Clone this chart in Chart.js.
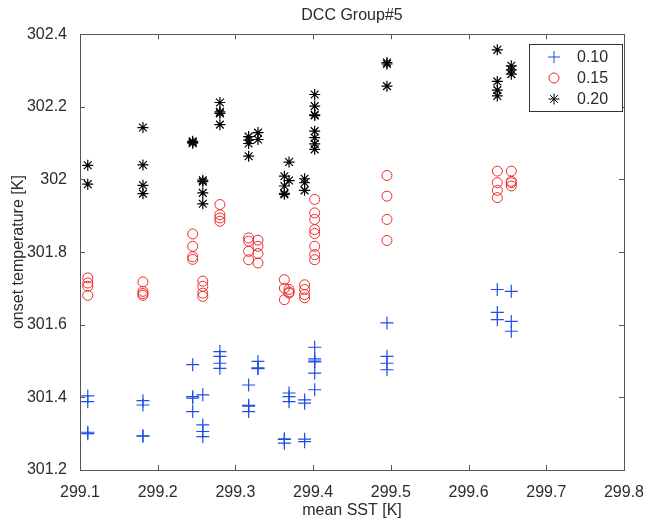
<!DOCTYPE html>
<html>
<head>
<meta charset="utf-8">
<script src="https://cdn.jsdelivr.net/npm/chart.js@4"></script>
<style>
  body { margin: 0; background: #fff; }
  #wrap { width: 649px; height: 520px; }
</style>
</head>
<body>
<div id="wrap"><canvas id="dcc"></canvas></div>
<script>
// mean SST of each cloud group (x positions)
const sstGroups = [299.110, 299.181, 299.245, 299.258, 299.280, 299.317, 299.329,
                   299.363, 299.369, 299.389, 299.402, 299.495, 299.637, 299.655];

// onset temperature per group, one array per threshold
const temp010 = [
  [301.404, 301.388, 301.304, 301.300],
  [301.391, 301.379, 301.294, 301.293],
  [301.490, 301.402, 301.398, 301.361],
  [301.407, 301.324, 301.306, 301.292],
  [301.526, 301.513, 301.494, 301.480],
  [301.434, 301.378, 301.376, 301.361],
  [301.499, 301.481, 301.479],
  [301.286, 301.284, 301.274],
  [301.412, 301.402, 301.388],
  [301.393, 301.384, 301.285, 301.278],
  [301.538, 301.506, 301.500, 301.498, 301.467, 301.421],
  [301.605, 301.513, 301.494, 301.476],
  [301.697, 301.634, 301.614],
  [301.692, 301.609, 301.582]
];
const temp015 = [
  [301.729, 301.715, 301.706, 301.681],
  [301.718, 301.692, 301.686, 301.681],
  [301.850, 301.816, 301.787, 301.780],
  [301.720, 301.706, 301.687, 301.678],
  [301.931, 301.903, 301.894, 301.885],
  [301.839, 301.830, 301.802, 301.779],
  [301.833, 301.816, 301.796, 301.770],
  [301.724, 301.701, 301.669],
  [301.697, 301.690, 301.687],
  [301.710, 301.697, 301.683, 301.674],
  [301.945, 301.908, 301.890, 301.862, 301.851, 301.816, 301.793, 301.779],
  [302.011, 301.954, 301.890, 301.832],
  [302.023, 301.991, 301.970, 301.950],
  [302.023, 301.995, 301.991, 301.982]
];
const temp020 = [
  [302.039, 301.987],
  [302.143, 302.040, 301.984, 301.961],
  [302.105, 302.102, 302.100],
  [301.998, 301.994, 301.963, 301.933],
  [302.212, 302.186, 302.182, 302.151],
  [302.118, 302.108, 302.099, 302.064],
  [302.129, 302.110],
  [302.009, 301.982, 301.962, 301.959],
  [302.048, 301.997],
  [302.002, 301.991, 301.970],
  [302.234, 302.202, 302.178, 302.176, 302.133, 302.115, 302.098, 302.083],
  [302.322, 302.318, 302.257],
  [302.357, 302.270, 302.246, 302.230],
  [302.313, 302.302, 302.290]
];

const seriesNames = ["0.10", "0.15", "0.20"];
const xTicks = [299.1, 299.2, 299.3, 299.4, 299.5, 299.6, 299.7, 299.8];
const yTicks = [301.2, 301.4, 301.6, 301.8, 302, 302.2, 302.4];

const FONT = "'Liberation Sans', Arial, sans-serif";
const TXT = "#2b2b2b";

function toPoints(groups) {
  const pts = [];
  groups.forEach((vals, i) => {
    vals.forEach(v => pts.push({ x: sstGroups[i], y: v }));
  });
  return pts;
}

// box, inward ticks and legend like matlab
const matlabFrame = {
  id: "matlabFrame",
  afterDraw(chart) {
    const ctx = chart.ctx;
    const a = chart.chartArea;
    const xs = chart.scales.x, ys = chart.scales.y;
    ctx.save();
    ctx.strokeStyle = "#555";
    ctx.lineWidth = 1;
    ctx.strokeRect(Math.round(a.left) + 0.5, Math.round(a.top) + 0.5,
      Math.round(a.right - a.left), Math.round(a.bottom - a.top));
    ctx.beginPath();
    const L = 5;
    xTicks.forEach(v => {
      const px = Math.round(xs.getPixelForValue(v)) + 0.5;
      ctx.moveTo(px, a.bottom); ctx.lineTo(px, a.bottom - L);
      ctx.moveTo(px, a.top); ctx.lineTo(px, a.top + L);
    });
    yTicks.forEach(v => {
      const py = Math.round(ys.getPixelForValue(v)) + 0.5;
      ctx.moveTo(a.left, py); ctx.lineTo(a.left + L, py);
      ctx.moveTo(a.right, py); ctx.lineTo(a.right - L, py);
    });
    ctx.stroke();

    // legend box
    const bx = 529.5, by = 44.5, bw = 93, bh = 67;
    ctx.fillStyle = "#fff";
    ctx.fillRect(bx, by, bw, bh);
    ctx.strokeStyle = "#333";
    ctx.strokeRect(bx, by, bw, bh);
    ctx.font = "16px " + FONT;
    ctx.textBaseline = "middle";
    chart.data.datasets.forEach((ds, i) => {
      const cy = 57 + i * 21;
      const cx = 554;
      ctx.strokeStyle = ds.borderColor;
      ctx.lineWidth = 1;
      ctx.beginPath();
      if (ds.pointStyle === "cross") {
        ctx.moveTo(cx - 6, cy); ctx.lineTo(cx + 6, cy);
        ctx.moveTo(cx, cy - 6); ctx.lineTo(cx, cy + 6);
      } else if (ds.pointStyle === "circle") {
        ctx.arc(cx, cy, 5, 0, Math.PI * 2);
      } else {
        const r = 5.5, d = r * Math.SQRT1_2;
        ctx.moveTo(cx - r, cy); ctx.lineTo(cx + r, cy);
        ctx.moveTo(cx, cy - r); ctx.lineTo(cx, cy + r);
        ctx.moveTo(cx - d, cy - d); ctx.lineTo(cx + d, cy + d);
        ctx.moveTo(cx - d, cy + d); ctx.lineTo(cx + d, cy - d);
      }
      ctx.stroke();
      ctx.fillStyle = TXT;
      ctx.fillText(ds.label, 577, cy + 1);
    });
    ctx.restore();
  }
};

new Chart(document.getElementById("dcc"), {
  type: "scatter",
  data: {
    datasets: [
      { label: seriesNames[0], data: toPoints(temp010), pointStyle: "cross",
        radius: 6.5, borderColor: "#1f4fe6", backgroundColor: "#1f4fe6", borderWidth: 1.2 },
      { label: seriesNames[1], data: toPoints(temp015), pointStyle: "circle",
        radius: 5, borderColor: "#ee2a2a", backgroundColor: "rgba(0,0,0,0)", borderWidth: 1 },
      { label: seriesNames[2], data: toPoints(temp020), pointStyle: "star",
        radius: 5.5, borderColor: "#000", backgroundColor: "#000", borderWidth: 1.2 }
    ]
  },
  options: {
    responsive: true,
    maintainAspectRatio: false,
    animation: false,
    events: [],
    layout: { padding: { right: 19, bottom: 0, left: 0, top: 0 } },
    plugins: {
      legend: { display: false },
      tooltip: { enabled: false },
      title: {
        display: true, text: "DCC Group#5", color: TXT, fullSize: false,
        font: { family: FONT, size: 16, weight: "normal" },
        padding: { top: 6, bottom: 9 }
      }
    },
    scales: {
      x: {
        type: "linear", min: 299.1, max: 299.8,
        afterBuildTicks: s => { s.ticks = xTicks.map(v => ({ value: v })); },
        afterFit: s => { s.height = 50; },
        ticks: { color: TXT, font: { family: FONT, size: 16 }, padding: 5,
          maxRotation: 0, callback: v => v.toFixed(1) },
        grid: { display: false },
        border: { display: false },
        title: { display: true, text: "mean SST [K]", color: TXT,
          font: { family: FONT, size: 16 }, padding: { top: 3, bottom: 0 } }
      },
      y: {
        type: "linear", min: 301.2, max: 302.4,
        afterBuildTicks: s => { s.ticks = yTicks.map(v => ({ value: v })); },
        afterFit: s => { s.width = 80; },
        ticks: { color: TXT, font: { family: FONT, size: 16 }, padding: 5,
          callback: v => String(Math.round(v * 10) / 10) },
        grid: { display: false },
        border: { display: false },
        title: { display: true, text: "onset temperature [K]", color: TXT,
          font: { family: FONT, size: 16 }, padding: { top: 9, bottom: 0 } }
      }
    }
  },
  plugins: [matlabFrame]
});
</script>
</body>
</html>
